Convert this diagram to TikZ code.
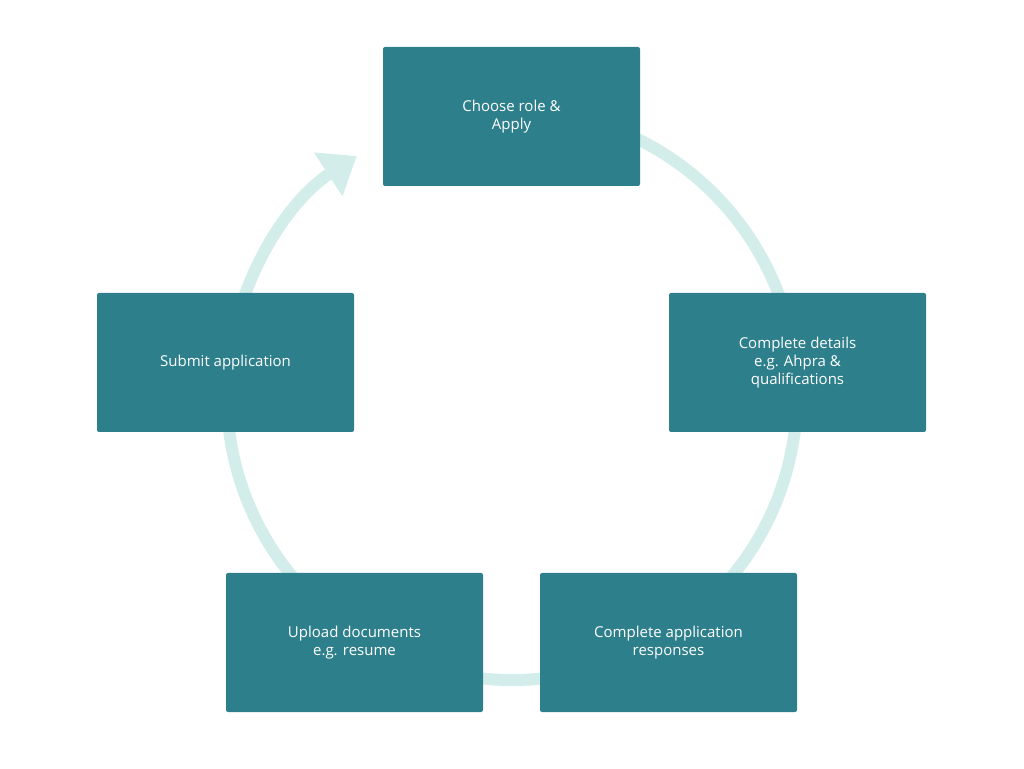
\documentclass[tikz,border=0pt]{standalone}
\usepackage{fontspec}
\setmainfont{Open Sans}
\usetikzlibrary{arrows.meta, positioning}
\definecolor{boxteal}{HTML}{2E7F8C}
\definecolor{ringmint}{HTML}{D3EEEA}

\begin{document}
\begin{tikzpicture}
  [x=1pt, y=1pt,
   stage/.style={fill=boxteal, text=white, rounded corners=2pt, minimum width=257pt,
                minimum height=139pt, align=center, font=\fontsize{15}{18}\selectfont}]

  \useasboundingbox (0,0) rectangle (1024,768);

  % ring with arrow
  \coordinate (C) at (512,373);
  \draw[ringmint, line width=12pt, -{Triangle[width=50pt,length=34pt]}]
    (C) ++(80:285) arc[start angle=80, end angle=-237, radius=285];

  \node[stage] (choose)   at (511.5,651.5) {Choose role \&\\Apply};
  \node[stage] (details)  at (797.5,405.5) {Complete details\\e.g. Ahpra \&\\qualifications};
  \node[stage] (response) at (668.5,125.5) {Complete application\\responses};
  \node[stage] (upload)   at (354.5,125.5) {Upload documents\\e.g. resume};
  \node[stage] (submit)   at (225.5,405.5) {Submit application};

\end{tikzpicture}
\end{document}
